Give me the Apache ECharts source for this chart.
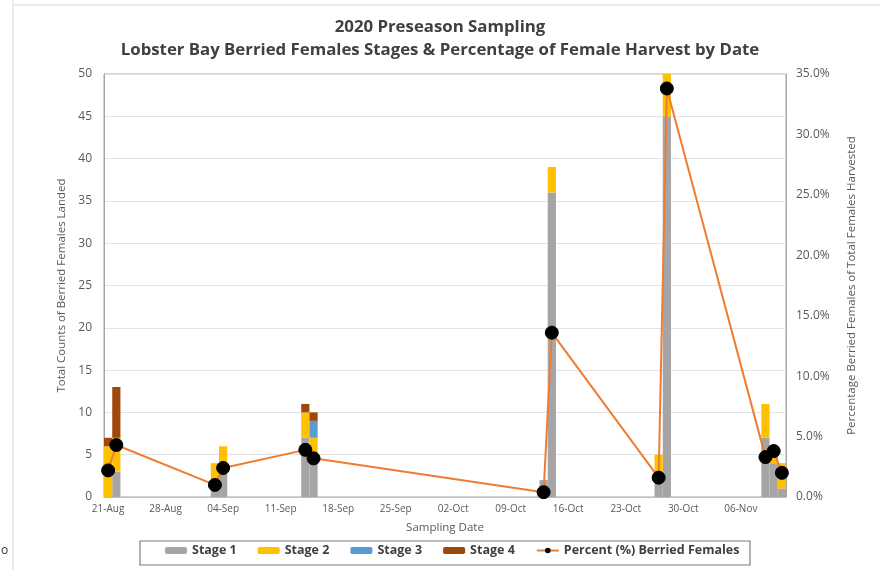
<!DOCTYPE html>
<html>
<head>
<meta charset="utf-8">
<script src="https://cdn.jsdelivr.net/npm/echarts@6/dist/echarts.min.js"></script>
<style>
  html, body { margin: 0; padding: 0; background: #fff; }
  #chart { width: 880px; height: 570px; }
</style>
</head>
<body>
<div id="chart"></div>
<script>
// Sampling dates (2020) and counts of berried females by egg stage
const sampleDates = ['21-Aug', '22-Aug', '03-Sep', '04-Sep', '14-Sep', '15-Sep', '13-Oct', '14-Oct', '27-Oct', '28-Oct', '09-Nov', '10-Nov', '11-Nov'];
const stage1 = [0, 3, 2, 4, 7, 5, 2, 36, 3, 45, 7, 4, 1];
const stage2 = [6, 4, 2, 2, 3, 2, 0, 3, 2, 5, 4, 1, 3];
const stage3 = [0, 0, 0, 0, 0, 2, 0, 0, 0, 0, 0, 0, 0];
const stage4 = [1, 6, 0, 0, 1, 1, 0, 0, 0, 0, 0, 0, 0];
// Percent of harvested females that were berried
const percentBerried = [2.2, 4.3, 1.0, 2.4, 3.9, 3.2, 0.4, 13.6, 1.6, 33.8, 3.3, 3.8, 2.0];

// Date axis runs one slot per day, 21-Aug through 11-Nov
const axisStart = '2020-08-21';
const axisDays = 83;
const monthNames = ['Jan','Feb','Mar','Apr','May','Jun','Jul','Aug','Sep','Oct','Nov','Dec'];
const dayLabels = [];
const d0 = new Date(axisStart + 'T00:00:00Z');
for (let i = 0; i < axisDays; i++) {
  const d = new Date(d0.getTime() + i * 86400000);
  const dd = String(d.getUTCDate()).padStart(2, '0');
  dayLabels.push(dd + '-' + monthNames[d.getUTCMonth()]);
}

const FONT = '"Open Sans", "Liberation Sans", sans-serif';
const TEXT = '#595959';

function pairs(values) {
  return sampleDates.map((d, i) => [d, values[i]]);
}

function stageSeries(name, values, color) {
  return {
    name: name,
    type: 'bar',
    stack: 'stages',
    barCategoryGap: '0%',
    barGap: '0%',
    itemStyle: { color: color },
    emphasis: { disabled: true },
    data: pairs(values)
  };
}

const chart = echarts.init(document.getElementById('chart'), null, { renderer: 'canvas' });

chart.setOption({
  animation: false,
  backgroundColor: '#ffffff',
  textStyle: { fontFamily: FONT },
  title: {
    text: '2020 Preseason Sampling\nLobster Bay Berried Females Stages & Percentage of Female Harvest by Date',
    left: 'center',
    top: 11,
    textStyle: { fontFamily: FONT, fontSize: 16.8, fontWeight: 'bold', color: '#404040', lineHeight: 23 }
  },
  grid: {
    left: 104, right: 94, top: 74, bottom: 73,
    show: true, borderColor: '#a6a6a6', borderWidth: 1
  },
  legend: {
    bottom: 8,
    left: 160,
    itemWidth: 22,
    itemHeight: 7,
    itemGap: 21,
    textStyle: { fontFamily: FONT, fontSize: 12.5, fontWeight: 'bold', color: '#404040' },
    data: ['Stage 1', 'Stage 2', 'Stage 3', 'Stage 4',
      { name: 'Percent (%) Berried Females', itemStyle: { color: '#000' } }]
  },
  graphic: [
    { type: 'line', shape: { x1: 13, y1: 0, x2: 13, y2: 570 }, style: { stroke: '#ececec', lineWidth: 2 } },
    { type: 'line', shape: { x1: 13, y1: 5, x2: 880, y2: 5 }, style: { stroke: '#ececec', lineWidth: 2 } },
    { type: 'rect', shape: { x: 140, y: 541, width: 610, height: 24 }, style: { fill: 'none', stroke: '#7f7f7f', lineWidth: 1.2 } },
    { type: 'text', left: 1, top: 545, style: { text: 'o', font: '12px ' + FONT, fill: '#333' } }
  ],
  xAxis: {
    type: 'category',
    data: dayLabels,
    boundaryGap: true,
    name: 'Sampling Date',
    nameLocation: 'middle',
    nameGap: 25,
    nameTextStyle: { fontSize: 11.5, color: TEXT, fontFamily: FONT },
    axisLine: { lineStyle: { color: '#bfbfbf' } },
    axisTick: { show: false },
    axisLabel: { interval: 6, fontSize: 10, color: TEXT, margin: 7, fontFamily: FONT },
    splitLine: { show: false }
  },
  yAxis: [
    {
      type: 'value',
      min: 0, max: 50, interval: 5,
      name: 'Total Counts of Berried Females Landed',
      nameLocation: 'middle',
      nameGap: 36,
      nameTextStyle: { fontSize: 11.5, color: TEXT, fontFamily: FONT },
      axisLine: { show: true, lineStyle: { color: '#a6a6a6' } },
      axisTick: { show: false },
      axisLabel: { fontSize: 12, color: TEXT, margin: 12, fontFamily: FONT },
      splitLine: { lineStyle: { color: '#e3e3e3' } }
    },
    {
      type: 'value',
      min: 0, max: 35, interval: 5,
      name: 'Percentage Berried Females of Total Females Harvested',
      nameLocation: 'middle',
      nameRotate: 90,
      nameGap: 60,
      nameTextStyle: { fontSize: 11.5, color: TEXT, fontFamily: FONT },
      axisLine: { show: true, lineStyle: { color: '#a6a6a6' } },
      axisTick: { show: false },
      axisLabel: { fontSize: 12, color: TEXT, margin: 10, fontFamily: FONT, formatter: v => v.toFixed(1) + '%' },
      splitLine: { show: false }
    }
  ],
  series: [
    stageSeries('Stage 1', stage1, '#a5a5a5'),
    stageSeries('Stage 2', stage2, '#ffc000'),
    stageSeries('Stage 3', stage3, '#5b9bd5'),
    stageSeries('Stage 4', stage4, '#9e480e'),
    {
      name: 'Percent (%) Berried Females',
      type: 'line',
      yAxisIndex: 1,
      z: 5,
      symbol: 'circle',
      symbolSize: 13,
      showAllSymbol: true,
      lineStyle: { color: '#ed7d31', width: 2 },
      itemStyle: { color: '#000000', borderColor: '#000000' },
      emphasis: { disabled: true },
      data: pairs(percentBerried)
    }
  ]
});
</script>
</body>
</html>
